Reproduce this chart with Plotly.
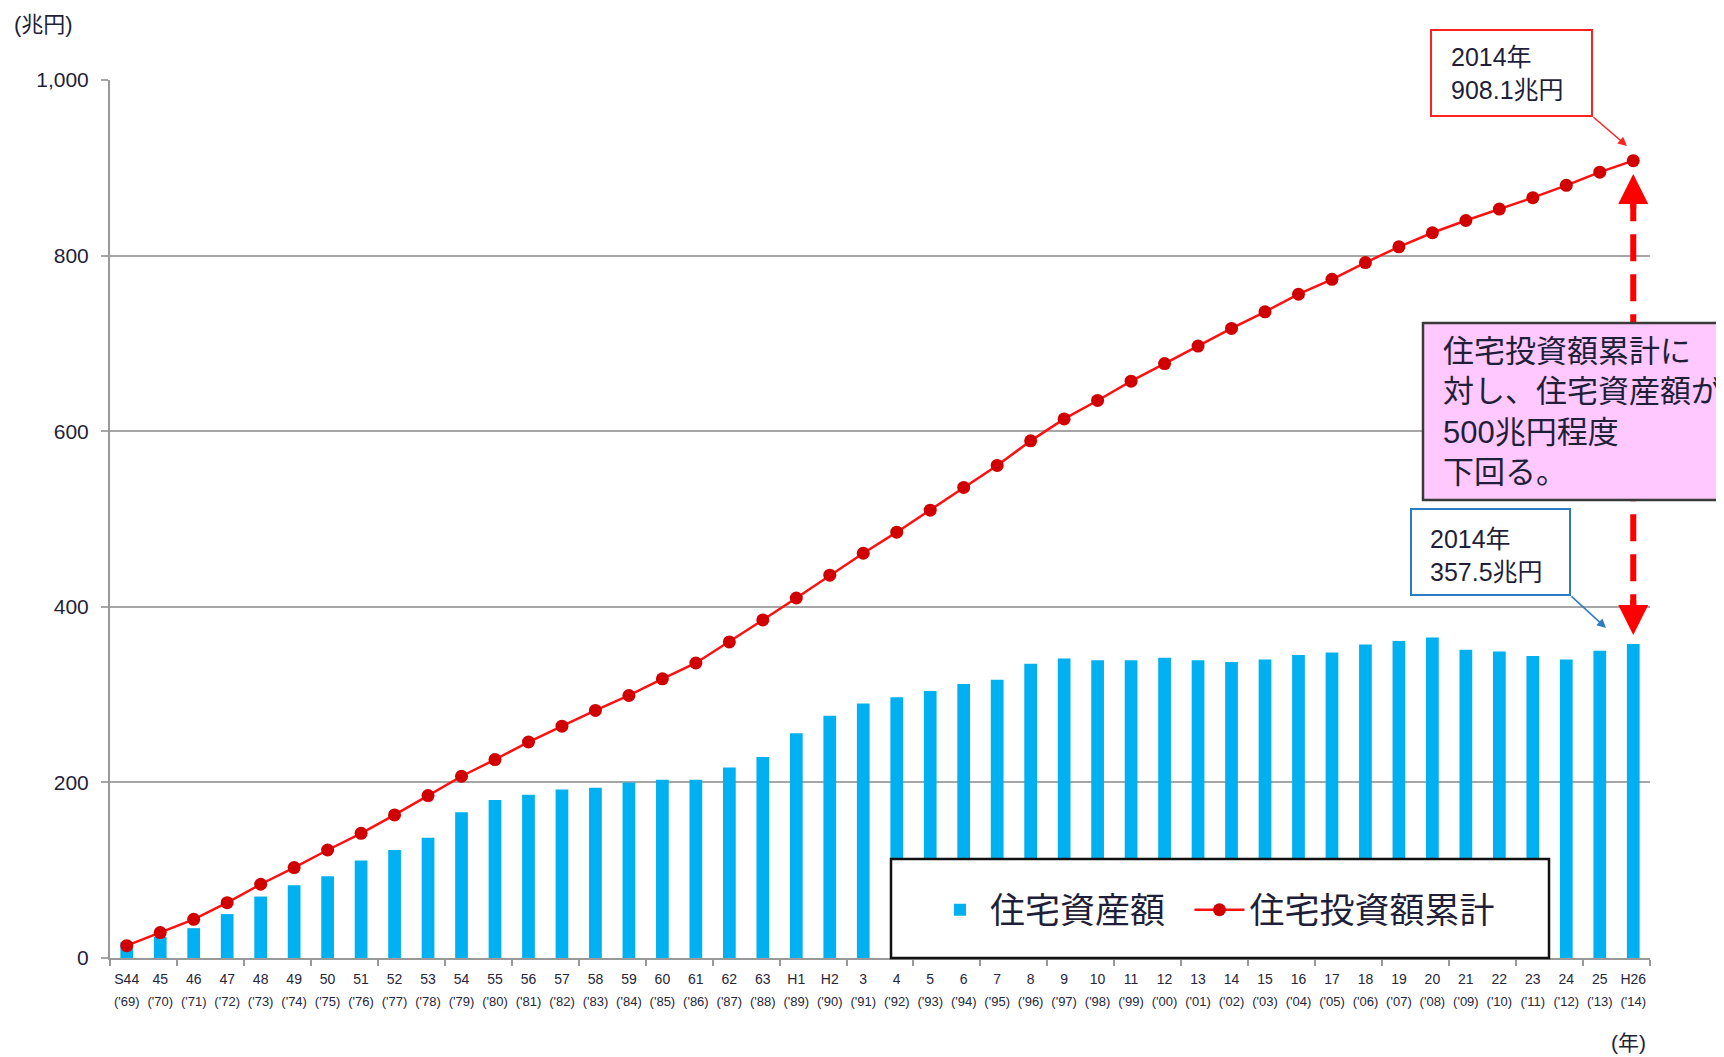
import plotly.graph_objects as go

years = list(range(1969, 2015))
era_labels = ["S44", "45", "46", "47", "48", "49", "50", "51", "52", "53", "54", "55", "56", "57", "58", "59",
              "60", "61", "62", "63", "H1", "H2", "3", "4", "5", "6", "7", "8", "9", "10", "11", "12", "13",
              "14", "15", "16", "17", "18", "19", "20", "21", "22", "23", "24", "25", "H26"]
west_labels = ["('%02d)" % (y % 100) for y in years]

housing_assets = [18, 24, 34, 50, 70, 83, 93, 111, 123, 137, 166, 180, 186, 192, 194, 200,
                  203, 203, 217, 229, 256, 276, 290, 297, 304, 312, 317, 335, 341, 339, 339, 342,
                  339, 337, 340, 345, 348, 357, 361, 365, 351, 349, 344, 340, 350, 357.5]
cum_investment = [14, 29, 44, 63, 84, 103, 123, 142, 163, 185, 207, 226, 246, 264, 282, 299,
                  318, 336, 360, 385, 410, 436, 461, 485, 510, 536, 561, 589, 614, 635, 657, 677,
                  697, 717, 736, 756, 773, 792, 810, 826, 840, 853, 866, 880, 895, 908.1]

y_ticks = [0, 200, 400, 600, 800, 1000]

FONT = "Liberation Sans, Noto Sans CJK JP, sans-serif"
TXT = "#1f1f3a"
# page body adds an 8px offset; work in screen pixels of the 1724x1057 shot
OFF = 8
SW, SH = 1724, 1057
PL, PR, PT, PB = 110, 1650, 80, 958        # plot area in screen pixels
W, H = SW - OFF, SH - OFF
PW, PH = PR - PL, PB - PT


def px(x):
    return (x - PL) / PW


def py(y):
    return (PB - y) / PH


fig = go.Figure()
fig.add_trace(go.Bar(
    x=years, y=housing_assets, name="住宅資産額\u00a0\u00a0", width=0.38,
    marker=dict(color="#00B0F0", line=dict(width=0)),
))
fig.add_trace(go.Scatter(
    x=years, y=cum_investment, name="住宅投資額累計", mode="lines+markers",
    line=dict(color="#FF1010", width=2.5),
    marker=dict(color="#D00000", size=13),
))
# carrier for the second row of year labels
fig.add_trace(go.Scatter(
    x=years, y=[None] * len(years), xaxis="x2", mode="markers",
    showlegend=False, hoverinfo="skip", marker=dict(opacity=0),
))

shapes = []
shapes.append(dict(type="line", xref="x", yref="y", x0=years[-1], x1=years[-1],
                   y0=870, y1=385, line=dict(color="#FF0000", width=6, dash="27px,13px"), layer="above"))
shapes.append(dict(type="rect", xref="paper", yref="paper", x0=px(1423), x1=px(1760),
                   y0=py(500), y1=py(323), fillcolor="#FFC8FF",
                   line=dict(color="#3a3a3a", width=2.5), layer="above"))
shapes.append(dict(type="rect", xref="paper", yref="paper", x0=px(1431), x1=px(1592),
                   y0=py(116), y1=py(30), fillcolor="white",
                   line=dict(color="#FF2020", width=2), layer="above"))
shapes.append(dict(type="rect", xref="paper", yref="paper", x0=px(1411), x1=px(1570),
                   y0=py(595), y1=py(509), fillcolor="white",
                   line=dict(color="#2E7BC4", width=2), layer="above"))
shapes.append(dict(type="rect", xref="paper", yref="paper", x0=px(891), x1=px(1549),
                   y0=py(958), y1=py(859), fillcolor="white",
                   line=dict(color="#111111", width=2.5), layer="above"))

annotations = [
    dict(text="(兆円)", xref="paper", yref="paper", x=px(12), y=py(24), xanchor="left",
         yanchor="middle", showarrow=False, font=dict(size=22, color=TXT, family=FONT)),
    dict(text="(年)", xref="paper", yref="paper", x=px(1628), y=py(1042), xanchor="center",
         yanchor="middle", showarrow=False, font=dict(size=21, color=TXT, family=FONT)),
    dict(text="2014年<br>908.1兆円", xref="paper", yref="paper", x=px(1449), y=py(74),
         xanchor="left", yanchor="middle", align="left", showarrow=False,
         font=dict(size=25, color=TXT, family=FONT)),
    dict(text="2014年<br>357.5兆円", xref="paper", yref="paper", x=px(1428), y=py(555),
         xanchor="left", yanchor="middle", align="left", showarrow=False,
         font=dict(size=25, color=TXT, family=FONT)),
    dict(text="住宅投資額累計に<br>対し、住宅資産額が<br>500兆円程度<br>下回る。", xref="paper", yref="paper",
         x=px(1441), y=py(412), xanchor="left", yanchor="middle", align="left", showarrow=False,
         font=dict(size=31, color=TXT, family=FONT)),
    dict(text="", xref="paper", yref="paper", x=px(1627), y=py(146), ax=-35, ay=-30,
         showarrow=True, arrowhead=2, arrowsize=1.2, arrowwidth=1.5, arrowcolor="#FF2020"),
    dict(text="", xref="paper", yref="paper", x=px(1606), y=py(628), ax=-36, ay=-33,
         showarrow=True, arrowhead=2, arrowsize=1.2, arrowwidth=1.5, arrowcolor="#2E7BC4"),
    dict(text="", xref="x", yref="y", x=years[-1], y=893, ax=0, ay=36,
         showarrow=True, arrowhead=2, arrowsize=1.0, arrowwidth=6, arrowcolor="#FF0000"),
    dict(text="", xref="x", yref="y", x=years[-1], y=368, ax=0, ay=-36,
         showarrow=True, arrowhead=2, arrowsize=1.0, arrowwidth=6, arrowcolor="#FF0000"),
]

xr = [years[0] - 0.5, years[-1] + 0.5]
fig.update_layout(
    width=W, height=H,
    margin=dict(l=PL - OFF, r=W - (PR - OFF), t=PT - OFF, b=H - (PB - OFF), pad=0),
    paper_bgcolor="white", plot_bgcolor="white",
    font=dict(family=FONT, color=TXT),
    showlegend=True,
    legend=dict(orientation="h", x=px(1215), y=py(910), xanchor="center", yanchor="middle",
                bgcolor="rgba(0,0,0,0)", borderwidth=0, font=dict(size=35, color=TXT, family=FONT),
                itemwidth=50),
    shapes=shapes,
    annotations=annotations,
    xaxis=dict(
        range=xr, tickmode="array", tickvals=years, ticktext=era_labels,
        tickfont=dict(size=14, color="#26263a", family=FONT),
        ticks="", showgrid=False, zeroline=False,
        showline=True, linecolor="#999999", linewidth=2,
        minor=dict(ticks="outside", tick0=years[0] - 0.5, dtick=2, ticklen=6,
                   tickcolor="#999999", tickwidth=1.5, showgrid=False),
        tickangle=0, fixedrange=True, ticklabelstandoff=7,
    ),
    xaxis2=dict(
        range=xr, overlaying="x", anchor="y", side="bottom",
        tickmode="array", tickvals=years, ticktext=west_labels,
        tickfont=dict(size=13, color="#26263a", family=FONT),
        ticks="", showgrid=False, zeroline=False, showline=False,
        tickangle=0, fixedrange=True, ticklabelstandoff=34,
    ),
    yaxis=dict(
        range=[0, 1000], tickmode="array", tickvals=y_ticks, tickformat=",",
        tickfont=dict(size=21, color=TXT, family=FONT),
        showgrid=True, gridcolor="#A6A6A6", gridwidth=2,
        zeroline=False, showline=True, linecolor="#999999", linewidth=2,
        ticks="outside", ticklen=7, tickcolor="#A6A6A6", tickwidth=2,
        ticklabelstandoff=8,
    ),
)

fig.write_html("out.html")
